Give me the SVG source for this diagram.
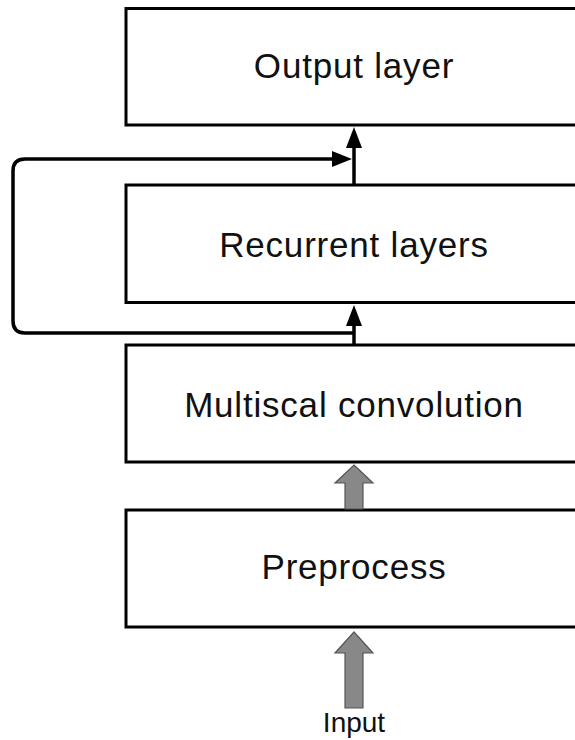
<svg xmlns="http://www.w3.org/2000/svg" width="575" height="740" viewBox="0 0 575 740">
<style>
.box{fill:#fff;stroke:#000;stroke-width:3}
.lbl{font-family:"Liberation Sans",Arial,sans-serif;font-size:35px;letter-spacing:0.8px;fill:#111;text-anchor:middle}
.line{fill:none;stroke:#000;stroke-width:3.5;stroke-linejoin:round}
.head{fill:#000}
.block{fill:#888;stroke:#555;stroke-width:1.2;stroke-linejoin:miter}
</style>
<rect width="575" height="740" fill="#fff"/>
<g id="output-layer">
<rect class="box" x="126" y="8.5" width="460" height="116.5"/>
<text class="lbl" x="354" y="78">Output layer</text>
</g>
<g id="recurrent-layers">
<rect class="box" x="126" y="185" width="460" height="117.5"/>
<text class="lbl" x="354" y="257">Recurrent layers</text>
</g>
<g id="multiscal-convolution">
<rect class="box" x="126" y="345" width="460" height="117"/>
<text class="lbl" x="354" y="417">Multiscal convolution</text>
</g>
<g id="preprocess">
<rect class="box" x="126" y="510" width="460" height="117"/>
<text class="lbl" x="354" y="579">Preprocess</text>
</g>
<g id="input">
<text x="354" y="732" font-family="'Liberation Sans',Arial,sans-serif" font-size="28" fill="#111" text-anchor="middle">Input</text>
</g>
<g id="connectors">
<line class="line" x1="354" y1="185" x2="354" y2="145"/>
<polygon class="head" points="354,127 346,148 362,148"/>
<line class="line" x1="354" y1="345" x2="354" y2="322"/>
<polygon class="head" points="354,305 346,326 362,326"/>
<path class="line" d="M354,333 H25 Q13,333 13,321 V171 Q13,159 25,159 H334"/>
<polygon class="head" points="352,159 332,151 332,167"/>
<polygon class="block" points="354,465 373,483 363,483 363,509 345,509 345,483 335,483"/>
<polygon class="block" points="354,632 373,653 363,653 363,708 345,708 345,653 335,653"/>
</g>
</svg>
